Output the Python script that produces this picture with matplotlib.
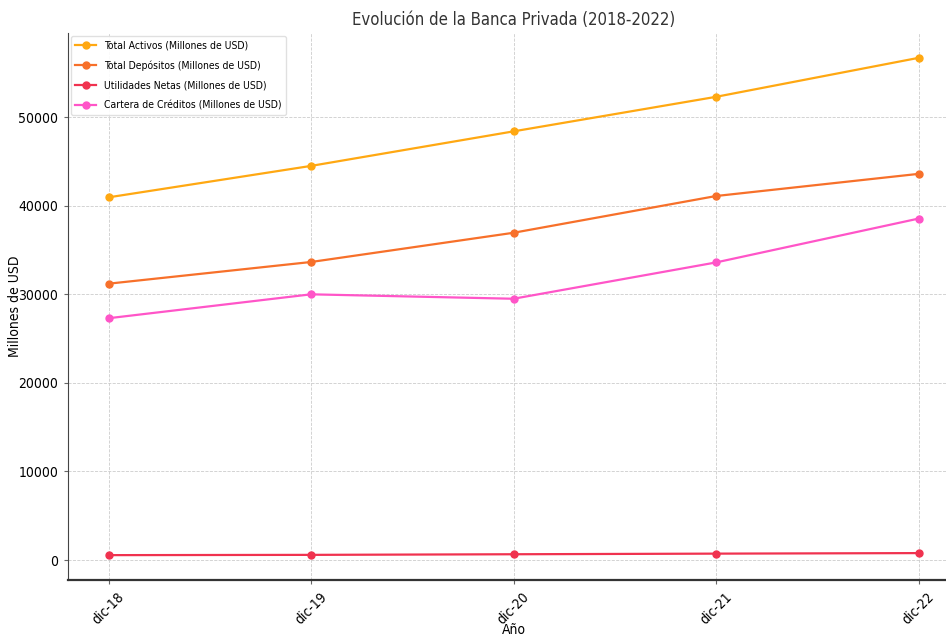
import matplotlib.pyplot as plt

# Year-end figures for private banking, millions of USD
years = ['dic-18', 'dic-19', 'dic-20', 'dic-21', 'dic-22']
total_activos = [40950, 44500, 48400, 52300, 56700]
total_depositos = [31200, 33650, 36950, 41100, 43600]
utilidades_netas = [550, 580, 650, 720, 780]
cartera_creditos = [27300, 30000, 29500, 33600, 38550]

series = [
    ('Total Activos (Millones de USD)', total_activos, '#FFA812'),
    ('Total Depósitos (Millones de USD)', total_depositos, '#F7702A'),
    ('Utilidades Netas (Millones de USD)', utilidades_netas, '#F0324F'),
    ('Cartera de Créditos (Millones de USD)', cartera_creditos, '#FF55C8'),
]

plt.rcParams['font.family'] = ['DejaVu Sans']
plt.rcParams['font.stretch'] = 'condensed'

fig = plt.figure(figsize=(9.46, 6.38), dpi=100)
ax = fig.add_axes([68 / 946, 58 / 638, 891 / 946, 547 / 638])

x = range(len(years))
for label, values, color in series:
    ax.plot(x, values, marker='o', markersize=5, linewidth=1.6, color=color, label=label)

ax.set_xticks(list(x))
ax.set_xticklabels(years, rotation=45, fontsize=10)
ax.tick_params(axis='y', labelsize=10, length=3, width=0.8, color='#666666', pad=4)
ax.tick_params(axis='x', length=3, width=0.8, color='#666666', pad=4)
ax.grid(True, linestyle='--', linewidth=0.6, color='#cccccc')

ax.set_title('Evolución de la Banca Privada (2018-2022)', fontsize=12, color='#333333', pad=6)
ax.set_xlabel('Año', fontsize=10)
ax.xaxis.set_label_coords(0.5, -43 / 547)
ax.set_ylabel('Millones de USD', fontsize=10)
ax.yaxis.set_label_coords(-46 / 891, 0.5)

for side in ('top', 'right'):
    ax.spines[side].set_visible(False)
ax.spines['left'].set_color('#444444')
ax.spines['bottom'].set_color('#333333')
ax.spines['bottom'].set_linewidth(1.6)

ax.legend(loc='upper left', fontsize=7.5, framealpha=0.9, edgecolor='#dddddd',
          labelspacing=0.95, borderaxespad=0.3, handlelength=2.0)

fig.savefig('out.png', dpi=100)
